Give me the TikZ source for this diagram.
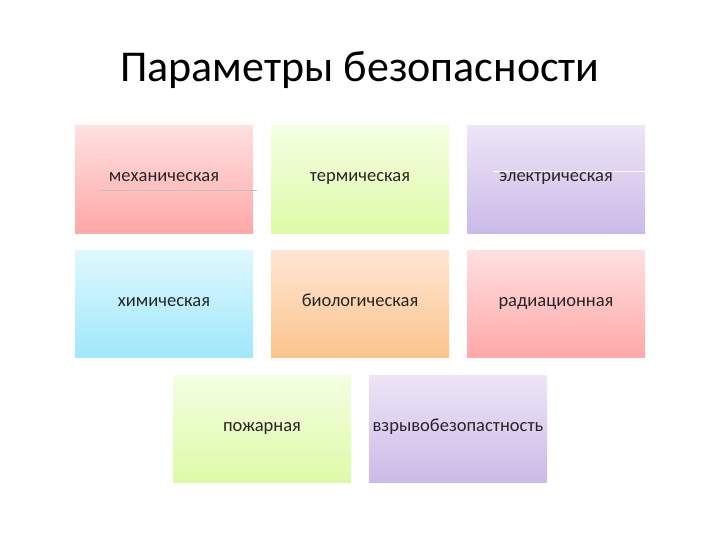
\documentclass[tikz,border=0pt]{standalone}
\usepackage{fontspec}
\setmainfont{Carlito}
\definecolor{pinkT}{RGB}{255,224,224}
\definecolor{pinkB}{RGB}{255,168,168}
\definecolor{greenT}{RGB}{243,255,226}
\definecolor{greenB}{RGB}{222,250,168}
\definecolor{purpT}{RGB}{237,229,247}
\definecolor{purpB}{RGB}{204,186,232}
\definecolor{blueT}{RGB}{222,248,255}
\definecolor{blueB}{RGB}{160,232,250}
\definecolor{orT}{RGB}{255,230,212}
\definecolor{orB}{RGB}{252,196,140}
\tikzset{
  card/.style={minimum width=178pt, minimum height=107pt, inner sep=0pt,
    text height=0.72em, text depth=0.22em,
    font=\fontsize{18.5}{22}\selectfont, text=black!85},
  pinkcard/.style={card, top color=pinkT, bottom color=pinkB},
  greencard/.style={card, top color=greenT, bottom color=greenB},
  purpcard/.style={card, top color=purpT, bottom color=purpB},
  bluecard/.style={card, top color=blueT, bottom color=blueB},
  orcard/.style={card, top color=orT, bottom color=orB},
}
\begin{document}
\begin{tikzpicture}[x=1pt,y=-1pt]
\useasboundingbox (0,0) rectangle (720,540);
\node[font=\fontsize{44}{52}\selectfont] (title) at (360,70) {Параметры безопасности};
\node[pinkcard]  (mech) at (164,179.5) {механическая};
\node[greencard] (term) at (360,179.5) {термическая};
\node[purpcard]  (elec) at (556,179.5) {электрическая};
\node[bluecard]  (chem) at (164,303.5) {химическая};
\node[orcard]    (bio)  at (360,303.5) {биологическая};
\node[pinkcard]  (rad)  at (556,303.5) {радиационная};
\node[greencard] (fire) at (262,428.5) {пожарная};
\node[purpcard]  (expl) at (458,428.5) {взрывобезопастность};
\coordinate (l1a) at (100,190);
\coordinate (l1b) at (257,190);
\draw[black!25, line width=0.6pt] (l1a) -- (l1b);
\coordinate (l2a) at (493,172);
\draw[white, line width=1pt] (l2a) -- (elec.east |- l2a);
\end{tikzpicture}
\end{document}
